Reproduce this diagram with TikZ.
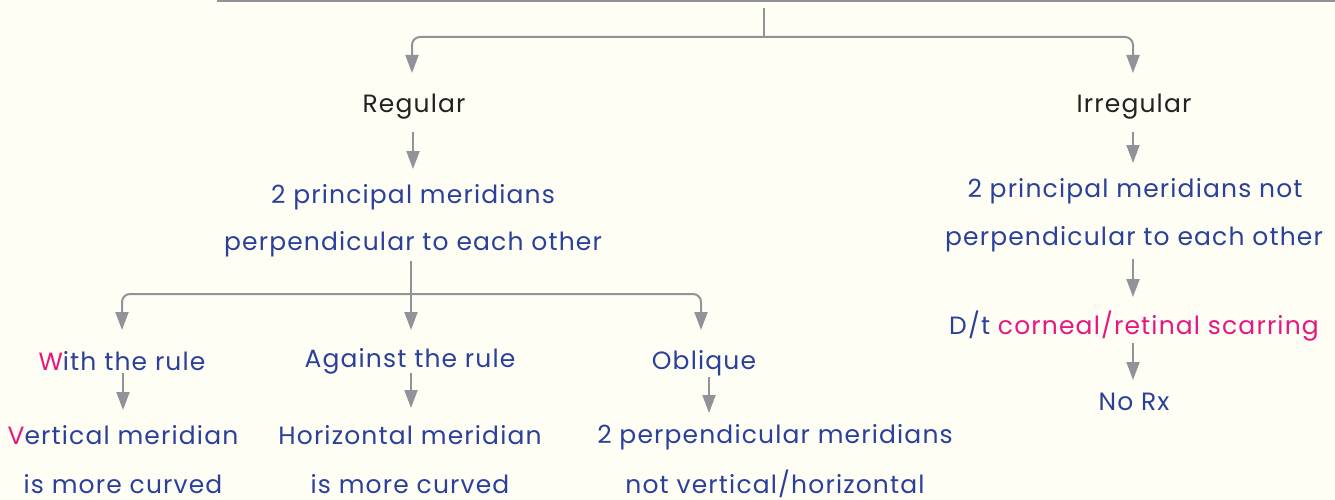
\documentclass[tikz,border=0pt]{standalone}
\usepackage{fontspec}
\setmainfont{Poppins}[LetterSpace=4.6]
\usetikzlibrary{arrows.meta,calc}
\definecolor{bg}{HTML}{FFFEF5}
\definecolor{ln}{HTML}{929398}
\definecolor{tb}{HTML}{2B409A}
\definecolor{tp}{HTML}{E8177F}
\definecolor{tk}{HTML}{222222}
\begin{document}
\begin{tikzpicture}[x=1pt,y=-1pt,
  txt/.style={anchor=base,inner sep=0pt,font=\fontsize{25}{30}\selectfont,text=tb},
  hd/.style={txt,text=tk},
  conn/.style={draw=ln,line width=2pt},
  arr/.style={conn,-{Triangle[length=18pt,width=13pt]}},
  rc/.style={rounded corners=8pt}]
\fill[bg] (0,0) rectangle (1335,500);
\useasboundingbox (0,0) rectangle (1335,500);

% text nodes
\node[hd]  (reg) at (414,113) {Regular};
\node[hd]  (irr) at (1134,113) {Irregular};
\node[txt] (pa1) at (413,203) {2 principal meridians};
\node[txt] (pa2) at (413,250) {perpendicular to each other};
\node[txt] (pb1) at (1135,197) {2 principal meridians not};
\node[txt] (pb2) at (1134,245) {perpendicular to each other};
\node[txt] (dt)  at (1134,334) {D/t \textcolor{tp}{corneal/retinal scarring}};
\node[txt] (nrx) at (1134,410) {No Rx};
\node[txt] (wr)  at (122,370) {\textcolor{tp}{W}ith the rule};
\node[txt] (ar)  at (410,367) {Against the rule};
\node[txt] (ob)  at (704,369) {Oblique};
\node[txt] (v1)  at (123,444) {\textcolor{tp}{V}ertical meridian};
\node[txt] (v2)  at (123,493) {is more curved};
\node[txt] (h1)  at (410,444) {Horizontal meridian};
\node[txt] (h2)  at (410,493) {is more curved};
\node[txt] (o1)  at (775,443) {2 perpendicular meridians};
\node[txt] (o2)  at (775,493) {not vertical/horizontal};

% top structure
\coordinate (tl) at (217,1);
\coordinate (tr) at (1335,1);
\coordinate (ts) at (764,8);
\coordinate (tj) at (764,37);
\draw[conn] (tl) -- (tr);
\draw[conn] (ts) -- (tj);
\draw[arr,rc] (tj) -| ($(reg.base)+(-2,-40)$);
\draw[arr,rc] (tj) -| ($(irr.base)+(-1,-40)$);

% left branch
\draw[arr] ($(reg.base)+(-1,19)$) -- ($(pa1.base)+(0,-34)$);
\coordinate (bj) at ($(pa2.base)+(-2,44)$);
\draw[conn] ($(pa2.base)+(-2,11)$) -- (bj);
\draw[arr] (bj) -- ($(ar.base)+(1,-37)$);
\draw[arr,rc] (bj) -| ($(wr.base)+(0,-40)$);
\draw[arr,rc] (bj) -| ($(ob.base)+(-3,-39)$);
\draw[arr] ($(wr.base)+(1,3)$) -- ($(v1.base)+(0,-34)$);
\draw[arr] ($(ar.base)+(1,6)$) -- ($(h1.base)+(1,-36)$);
\draw[arr] ($(ob.base)+(5,8)$) -- ($(ob.base)+(5,44)$);

% right branch
\draw[arr] ($(irr.base)+(-1,19)$) -- ($(pb1.base)+(-2,-34)$);
\draw[arr] ($(pb2.base)+(-1,14)$) -- ($(dt.base)+(-1,-37)$);
\draw[arr] ($(dt.base)+(-1,9)$) -- ($(nrx.base)+(-1,-30)$);
\end{tikzpicture}
\end{document}
